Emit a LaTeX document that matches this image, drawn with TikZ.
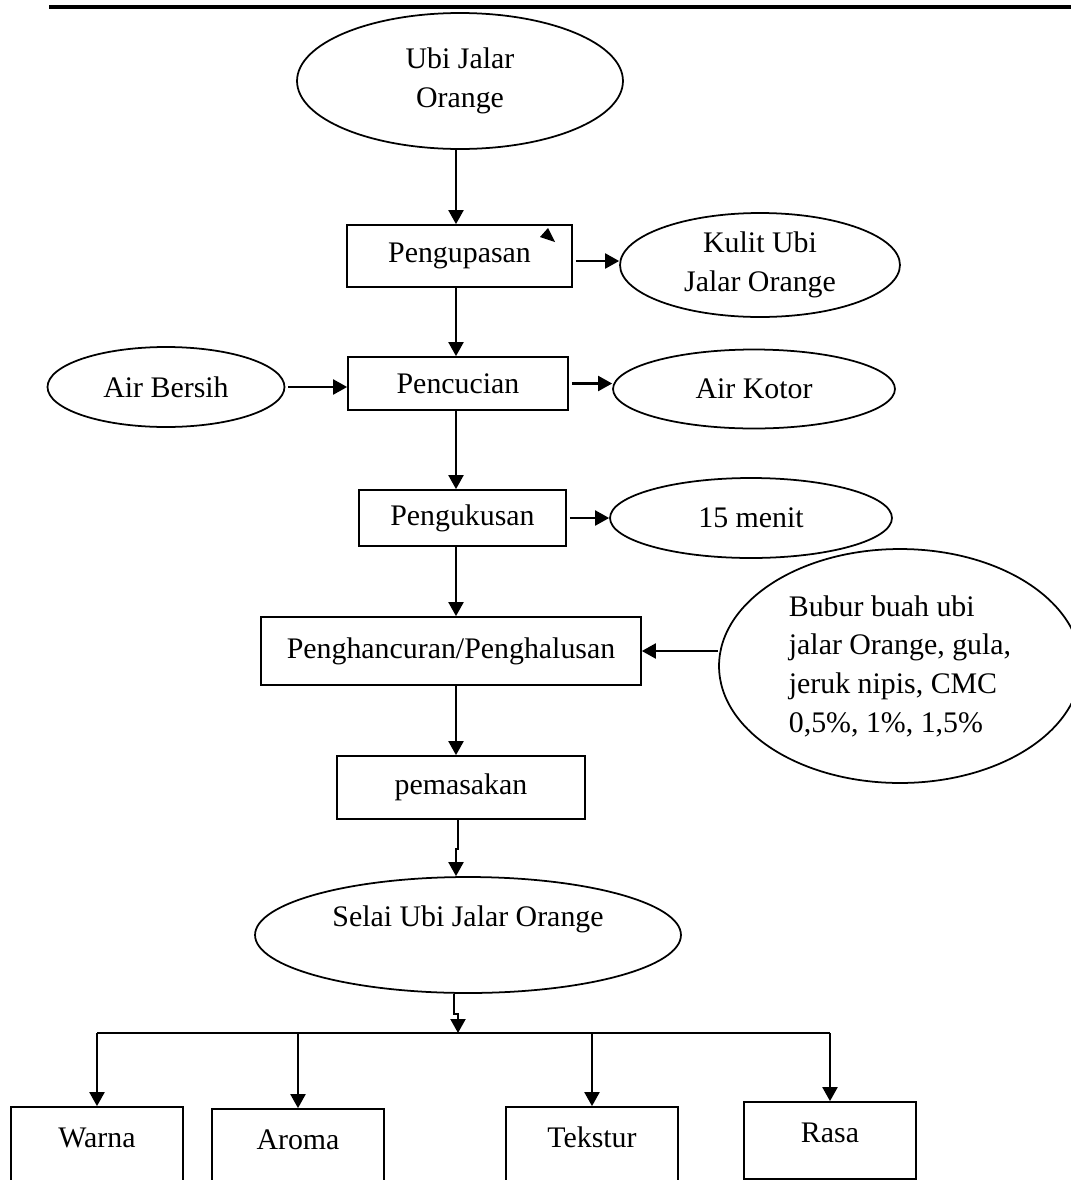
\documentclass[tikz,border=0pt]{standalone}
\usepackage{fontspec}
\setmainfont{Liberation Serif}
\usetikzlibrary{arrows.meta,shapes.geometric}

\begin{document}
\begin{tikzpicture}[
  x=0.02cm, y=-0.02cm,
  every node/.style={font=\fontsize{17}{22}\selectfont, inner sep=0pt},
  process/.style={draw, line width=1pt, rectangle, align=center},
  oval/.style={draw, line width=1pt, ellipse, align=center},
  result/.style={draw, line width=1pt, rectangle, minimum width=3.44cm,
                 minimum height=1.8cm, text height=0.45cm, text depth=0.65cm},
  arrow/.style={-{Triangle[length=0.28cm, width=0.3cm]}, line width=1.2pt}
]
  \useasboundingbox (0,0) rectangle (1071,1180);
  \clip (0,0) rectangle (1071,1180);

  \draw[line width=0.08cm] (49,7) -- (1071,7);

  \coordinate (col) at (456,0);
  \coordinate (hub) at (458,1033);

  \node[oval, minimum width=6.52cm, minimum height=2.72cm] (ubi) at (460,81) {Ubi Jalar\\Orange};
  \node[process, minimum width=4.5cm, minimum height=1.24cm] (kupas) at (459.5,256) {Pengupasan};
  \node[oval, minimum width=5.6cm, minimum height=2.08cm] (kulit) at (760,265) {Kulit Ubi\\Jalar Orange};
  \node[oval, minimum width=4.74cm, minimum height=1.6cm] (bersih) at (166,387) {Air Bersih};
  \node[process, minimum width=4.4cm, minimum height=1.06cm] (cuci) at (458,383.5) {Pencucian};
  \node[oval, minimum width=5.64cm, minimum height=1.58cm] (kotor) at (754,389) {Air Kotor};
  \node[process, minimum width=4.14cm, minimum height=1.12cm] (kukus) at (462.5,518) {Pengukusan};
  \node[oval, minimum width=5.64cm, minimum height=1.6cm] (menit) at (751,518) {15 menit};
  \node[process, minimum width=7.6cm, minimum height=1.36cm] (halus) at (451,651) {Penghancuran/Penghalusan};
  \node[oval, minimum width=7.24cm, minimum height=4.68cm, align=left] (bubur) at (900,666)
    {Bubur buah ubi\\jalar Orange, gula,\\jeruk nipis, CMC\\0,5\%, 1\%, 1,5\%};
  \node[process, minimum width=4.96cm, minimum height=1.26cm] (masak) at (461,787.5) {pemasakan};
  \node[oval, minimum width=8.52cm, minimum height=2.32cm] (selai) at (468,935) {Selai Ubi Jalar Orange\\\mbox{}};

  \node[result] (warna) at (97,1152) {Warna};
  \node[result] (aroma) at (298,1154) {Aroma};
  \node[result] (tekstur) at (592,1152) {Tekstur};
  \node[process, minimum width=3.44cm, minimum height=1.54cm, text height=0.45cm,
        text depth=0.37cm] (rasa) at (830,1140.5) {Rasa};

  \fill (540,237) -- (548,228) -- (555,242) -- cycle;

  \draw[arrow] (ubi.south -| col) -- (kupas.north -| col);
  \draw[arrow] (kupas.south -| col) -- (cuci.north -| col);
  \draw[arrow] (cuci.south -| col) -- (kukus.north -| col);
  \draw[arrow] (kukus.south -| col) -- (halus.north -| col);
  \draw[arrow] (halus.south -| col) -- (masak.north -| col);
  \draw[arrow] (masak.south -| col) ++(2,0) -- ++(0,29) -- ++(-2,0) -- (selai.north -| col);
  \draw[arrow] (selai.south -| col) ++(-2,0) -- ++(0,20) -- ++(4,0) -- (hub);

  \draw[arrow] ([shift={(0.06cm,-0.1cm)}]kupas.east) -- ([yshift=-0.1cm]kupas.east -| kulit.west);
  \draw[arrow] ([xshift=0.06cm]bersih.east) -- (bersih.east -| cuci.west);
  \draw[arrow] ([xshift=0.06cm]cuci.east) -- (cuci.east -| kotor.west);
  \draw[arrow] ([xshift=0.06cm]kukus.east) -- (kukus.east -| menit.west);
  \draw[arrow] (halus.east -| bubur.west) -- (halus.east);

  \draw[line width=1.2pt] (warna.north |- hub) -- (rasa.north |- hub);
  \foreach \b in {warna,aroma,tekstur,rasa}
    \draw[arrow] (\b.north |- hub) -- (\b.north);
\end{tikzpicture}
\end{document}
